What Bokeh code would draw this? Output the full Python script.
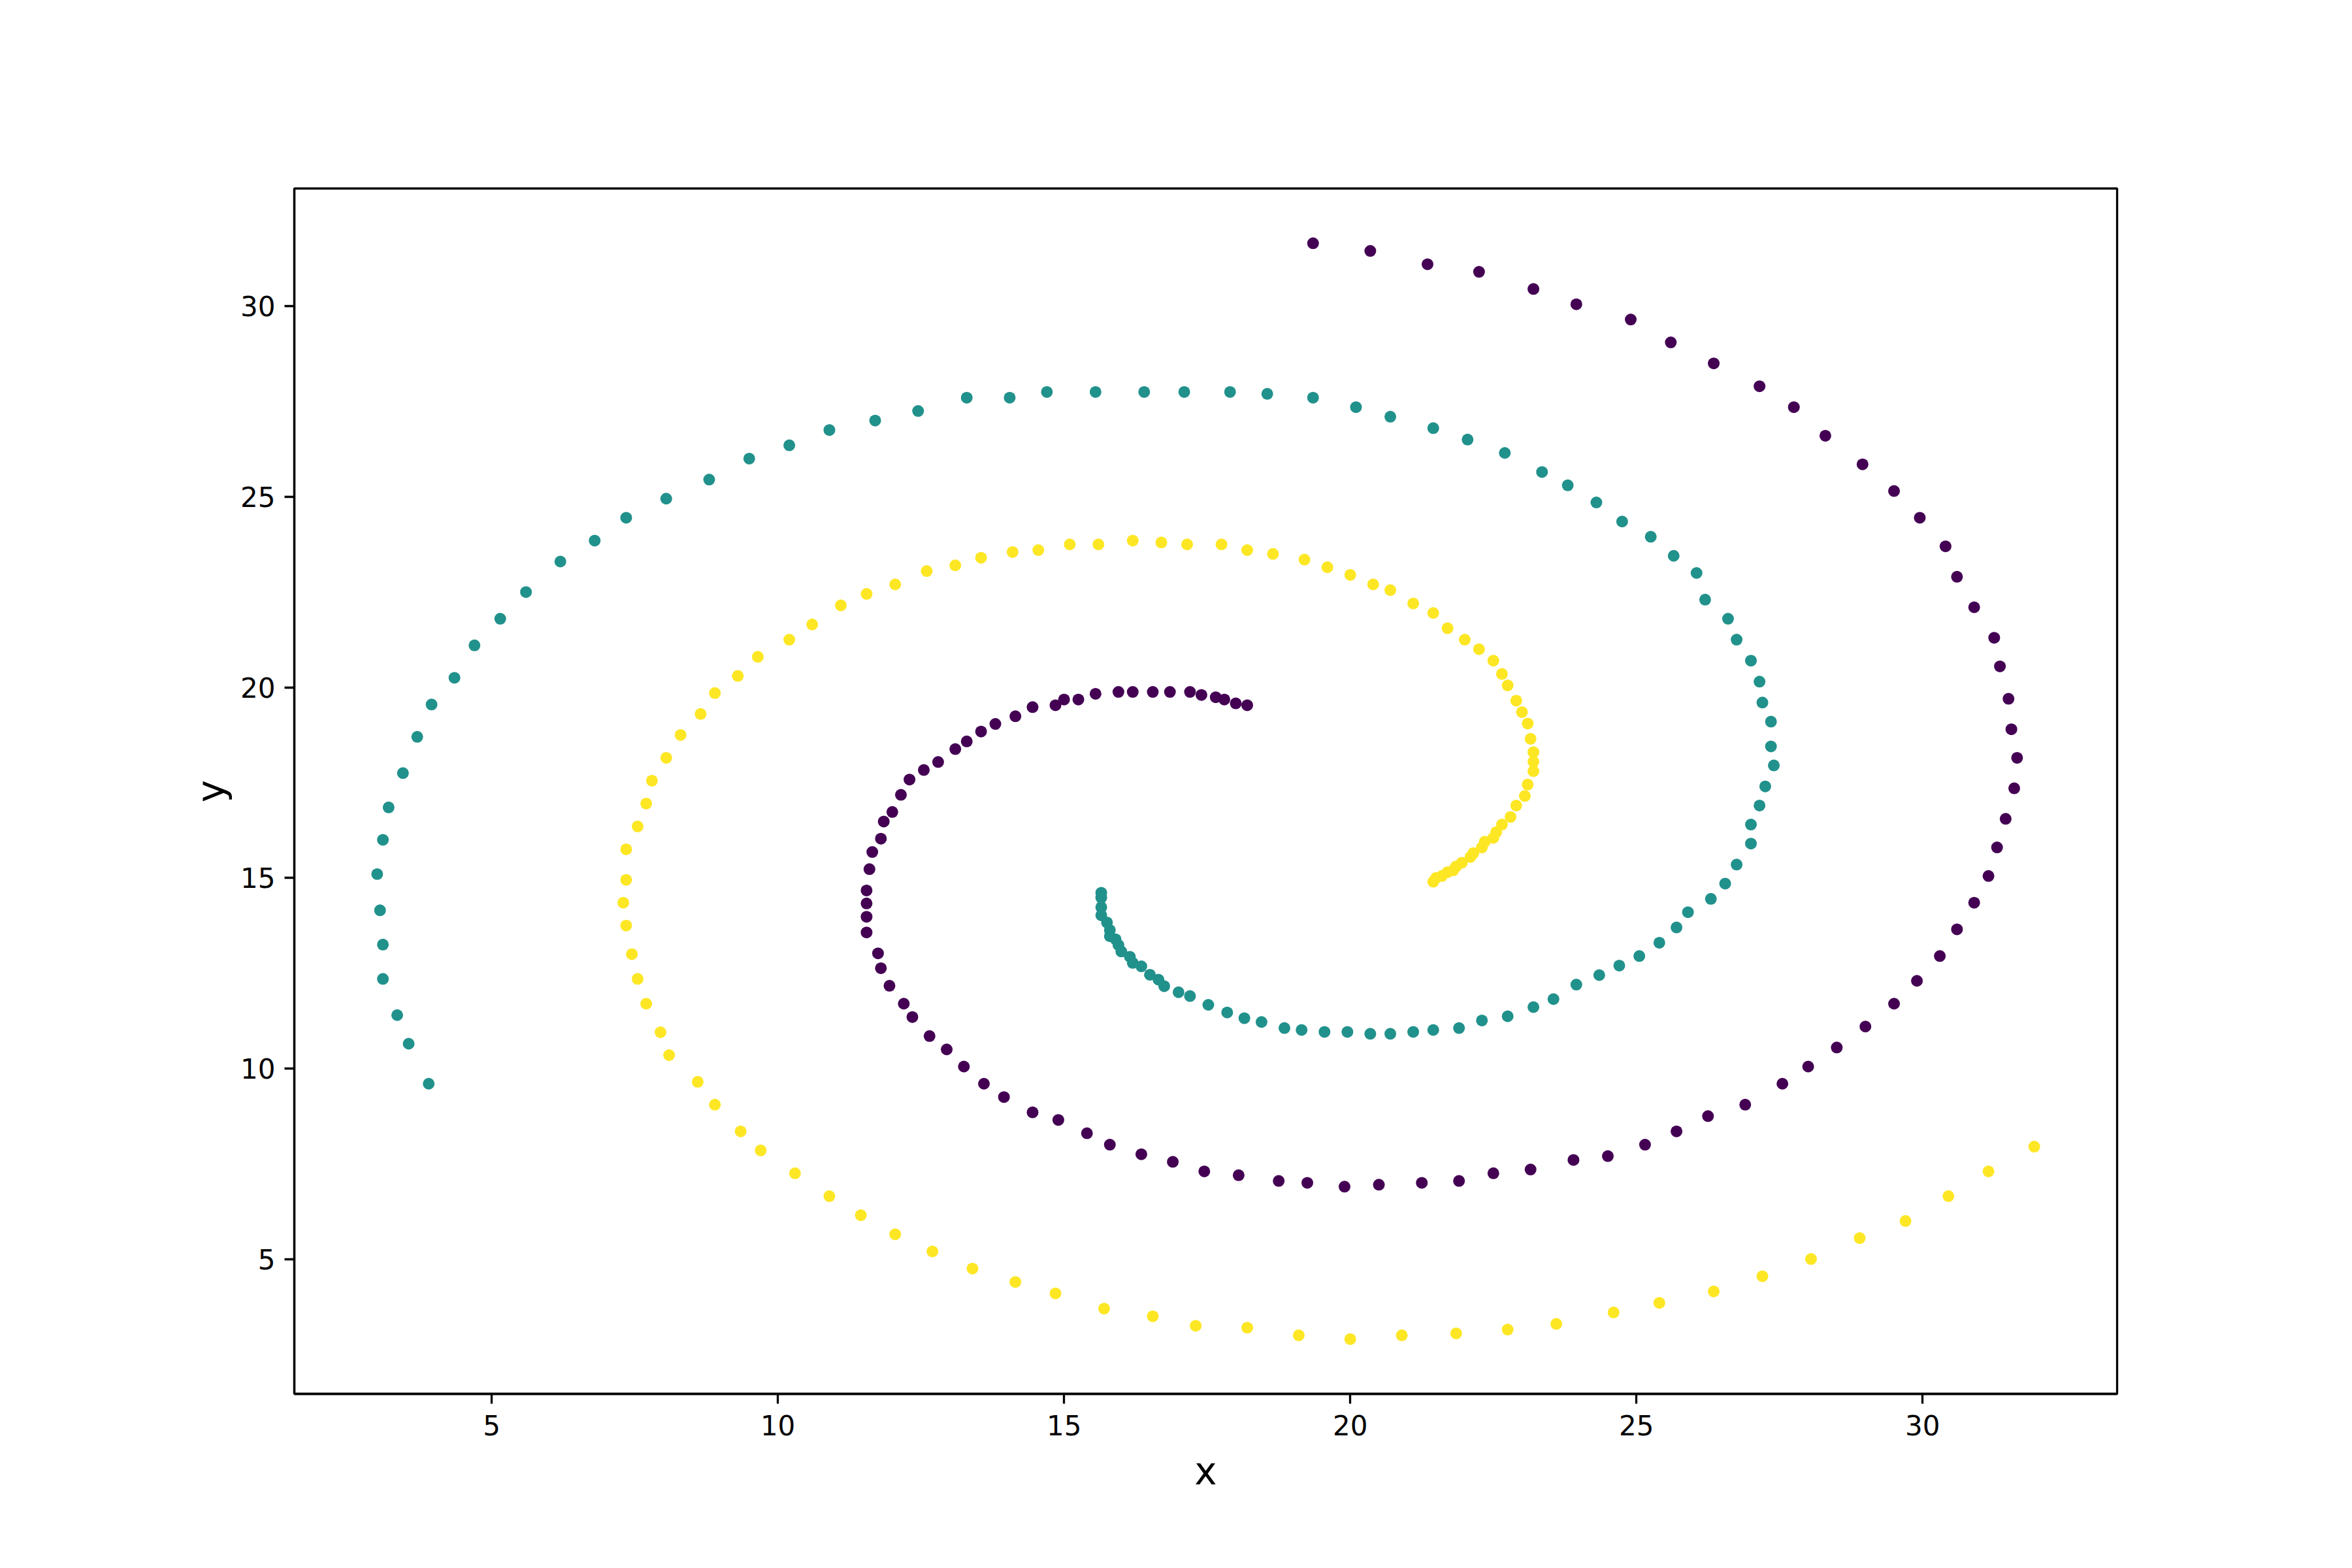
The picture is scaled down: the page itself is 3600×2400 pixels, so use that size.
from bokeh.plotting import figure
from bokeh.models import Range1d, FixedTicker
from bokeh.embed import file_html
from bokeh.resources import INLINE

# ---- data ----
purple_x = [19.35, 20.35, 21.35, 22.25, 23.2, 23.95, 24.9,
            25.6, 26.35, 27.15, 27.75, 28.3, 28.95, 29.5, 29.95, 30.4, 30.6,
            30.9, 31.25, 31.35, 31.5, 31.55, 31.65, 31.6, 31.45, 31.3, 31.15, 30.9, 30.6, 30.3, 29.9,
            29.5, 29.0, 28.5, 28.0, 27.55, 26.9, 26.25, 25.7,
            25.15, 24.5, 23.9, 23.15, 22.5, 21.9, 21.25, 20.5, 19.9, 19.25, 18.75, 18.05, 17.45,
            16.9, 16.35, 15.8, 15.4, 14.9, 14.45, 13.95, 13.6, 13.25, 12.95, 12.65, 12.35, 12.2,
            11.95, 11.8, 11.75, 11.55, 11.55, 11.55, 11.55, 11.6, 11.65, 11.8, 11.85, 12.0,
            12.15, 12.3, 12.55, 12.8, 13.1, 13.3, 13.55, 13.8, 14.15, 14.45, 14.85, 15.0,
            15.25, 15.55, 15.95, 16.2, 16.55, 16.85, 17.2, 17.4, 17.65, 17.8, 18.0, 18.2]
purple_y = [31.65, 31.45, 31.1, 30.9, 30.45, 30.05, 29.65,
            29.05, 28.5, 27.9, 27.35, 26.6, 25.85, 25.15, 24.45, 23.7, 22.9,
            22.1, 21.3, 20.55, 19.7, 18.9, 18.15, 17.35, 16.55, 15.8, 15.05, 14.35, 13.65, 12.95, 12.3,
            11.7, 11.1, 10.55, 10.05, 9.6, 9.05, 8.75, 8.35,
            8.0, 7.7, 7.6, 7.35, 7.25, 7.05, 7.0, 6.95, 6.9, 7.0, 7.05, 7.2, 7.3,
            7.55, 7.75, 8.0, 8.3, 8.65, 8.85, 9.25, 9.6, 10.05, 10.5, 10.85, 11.35, 11.7,
            12.17, 12.63, 13.02, 13.57, 13.98, 14.33, 14.67, 15.23, 15.68, 16.03, 16.48, 16.73,
            17.18, 17.58, 17.83, 18.04, 18.38, 18.58, 18.84, 19.04, 19.24, 19.48, 19.53, 19.68,
            19.68, 19.83, 19.88, 19.88, 19.88, 19.88, 19.88, 19.8, 19.74, 19.68, 19.58, 19.53]

teal_x = [3.9, 3.55, 3.35, 3.1, 3.1, 3.05, 3.0, 3.1, 3.2, 3.45, 3.7, 3.95, 4.35, 4.7, 5.15,
          5.6, 6.2, 6.8, 7.35, 8.05, 8.8, 9.5, 10.2, 10.9, 11.7, 12.45, 13.3, 14.05, 14.7,
          15.55, 16.4, 17.1, 17.9, 18.55, 19.35, 20.1, 20.7, 21.45, 22.05, 22.7, 23.35, 23.8,
          24.3, 24.75, 25.25, 25.65, 26.05, 26.2, 26.6, 26.75, 27.0, 27.15, 27.2, 27.35, 27.35,
          27.4, 27.25, 27.15, 27.0, 27.0, 26.75, 26.55, 26.3, 25.9, 25.7, 25.4, 25.05, 24.7,
          24.35, 23.95, 23.55, 23.2, 22.75, 22.3, 21.9, 21.45, 21.1, 20.7, 20.35, 19.95, 19.55,
          19.15, 18.85, 18.45, 18.15, 17.85, 17.52, 17.2, 17.0, 16.75, 16.65, 16.5, 16.35, 16.2,
          16.15, 16.0, 15.95, 15.9, 15.8, 15.8, 15.75, 15.65, 15.65, 15.65, 15.65]
teal_y = [9.6, 10.65, 11.4, 12.35, 13.25, 14.15, 15.1, 16.0, 16.85, 17.75, 18.7, 19.55, 20.25,
          21.1, 21.8, 22.5, 23.3, 23.85, 24.45, 24.95, 25.45, 26.0, 26.35, 26.75, 27.0, 27.25,
          27.6, 27.6, 27.75, 27.75, 27.75, 27.75, 27.75, 27.7, 27.6, 27.35, 27.1, 26.8, 26.5,
          26.15, 25.65, 25.3, 24.85, 24.35, 23.95, 23.45, 23.0, 22.3, 21.8, 21.25, 20.7, 20.15,
          19.6, 19.1, 18.45, 17.95, 17.4, 16.9, 16.4, 15.9, 15.35, 14.85, 14.45, 14.1, 13.7,
          13.3, 12.95, 12.7, 12.45, 12.2, 11.82, 11.61, 11.37, 11.26, 11.06, 11.01, 10.96, 10.91,
          10.91, 10.96, 10.96, 11.01, 11.06, 11.22, 11.32, 11.47, 11.67, 11.9, 12.0, 12.16,
          12.33, 12.46, 12.68, 12.77, 12.93, 13.07, 13.24, 13.39, 13.47, 13.63, 13.83, 14.02,
          14.23, 14.48, 14.61]

yellow_x = [31.95, 31.15, 30.45, 29.7, 28.9, 28.05, 27.2, 26.35, 25.4, 24.6, 23.6, 22.75,
            21.85, 20.9, 20.0, 19.1, 18.2, 17.3, 16.55, 15.7, 14.85, 14.15, 13.4, 12.7, 12.05,
            11.45, 10.9, 10.3, 9.7, 9.35, 8.9, 8.6, 8.1, 7.95, 7.7, 7.55, 7.45, 7.35, 7.3, 7.35,
            7.35, 7.55, 7.7, 7.8, 8.05, 8.3, 8.65, 8.9, 9.3, 9.65, 10.2, 10.6, 11.1, 11.55, 12.05,
            12.6, 13.1, 13.55, 14.1, 14.55, 15.1, 15.6, 16.2, 16.7, 17.15, 17.75, 18.2, 18.65,
            19.2, 19.6, 20.0, 20.4, 20.7, 21.1, 21.45, 21.7, 22.0, 22.25, 22.5, 22.65, 22.75,
            22.9, 23.0, 23.1, 23.15, 23.2, 23.2, 23.2, 23.1, 23.05, 22.9, 22.8, 22.65, 22.55,
            22.5, 22.35, 22.3, 22.15, 22.1, 21.95, 21.85, 21.8, 21.7, 21.6, 21.5, 21.45]
yellow_y = [7.95, 7.3, 6.65, 6.0, 5.55, 5.0, 4.55, 4.15, 3.85, 3.6, 3.3, 3.15, 3.05, 3.0, 2.9,
            3.0, 3.2, 3.25, 3.5, 3.7, 4.1, 4.4, 4.75, 5.2, 5.65, 6.15, 6.65, 7.25, 7.85, 8.35,
            9.05, 9.65, 10.35, 10.95, 11.7, 12.35, 13.0, 13.75, 14.35, 14.95, 15.75, 16.35, 16.95,
            17.55, 18.15, 18.75, 19.3, 19.85, 20.3, 20.8, 21.25, 21.65, 22.15, 22.45, 22.7, 23.05,
            23.2, 23.4, 23.55, 23.6, 23.75, 23.75, 23.85, 23.8, 23.75, 23.75, 23.6, 23.5, 23.35,
            23.15, 22.95, 22.7, 22.55, 22.2, 21.95, 21.55, 21.25, 21.0, 20.7, 20.35, 20.05, 19.65,
            19.35, 19.05, 18.65, 18.3, 18.05, 17.8, 17.45, 17.15, 16.9, 16.6, 16.4, 16.2, 16.05,
            15.95, 15.8, 15.65, 15.55, 15.4, 15.3, 15.2, 15.15, 15.05, 15.0, 14.9]

x_ticks = [5, 10, 15, 20, 25, 30]
y_ticks = [5, 10, 15, 20, 25, 30]
x_label = "x"
y_label = "y"

all_x = purple_x + teal_x + yellow_x
all_y = purple_y + teal_y + yellow_y
mx = 0.05 * (max(all_x) - min(all_x))
my = 0.05 * (max(all_y) - min(all_y))

p = figure(width=3592, height=2392, output_backend="svg", toolbar_location=None,
           x_range=Range1d(min(all_x) - mx, max(all_x) + mx),
           y_range=Range1d(min(all_y) - my, max(all_y) + my),
           min_border_left=450, min_border_right=352, min_border_top=288, min_border_bottom=259)
p.background_fill_color = "white"
p.border_fill_color = "white"
p.grid.visible = False
p.outline_line_color = "black"
p.outline_line_width = 3.3

p.xaxis.ticker = FixedTicker(ticks=x_ticks)
p.yaxis.ticker = FixedTicker(ticks=y_ticks)
p.xaxis.axis_label = x_label
p.yaxis.axis_label = y_label
for ax in (p.xaxis, p.yaxis):
    ax.axis_line_color = "black"
    ax.axis_line_width = 3.3
    ax.major_tick_in = 0
    ax.major_tick_out = 15
    ax.major_tick_line_width = 3.3
    ax.major_tick_line_color = "black"
    ax.minor_tick_line_color = None
    ax.major_label_text_font = "DejaVu Sans"
    ax.major_label_text_font_size = "42px"
    ax.major_label_text_color = "black"
    ax.axis_label_text_font = "DejaVu Sans"
    ax.axis_label_text_font_size = "58px"
    ax.axis_label_text_font_style = "normal"
    ax.axis_label_text_color = "black"
p.xaxis.major_label_standoff = 17
p.yaxis.major_label_standoff = 14
p.xaxis.axis_label_standoff = 18
p.yaxis.axis_label_standoff = 8

p.scatter(purple_x, purple_y, size=18, fill_color="#440154", line_color=None)
p.scatter(teal_x, teal_y, size=18, fill_color="#21918c", line_color=None)
p.scatter(yellow_x, yellow_y, size=18, fill_color="#fde725", line_color=None)

open("out.html", "w").write(file_html(p, INLINE))
